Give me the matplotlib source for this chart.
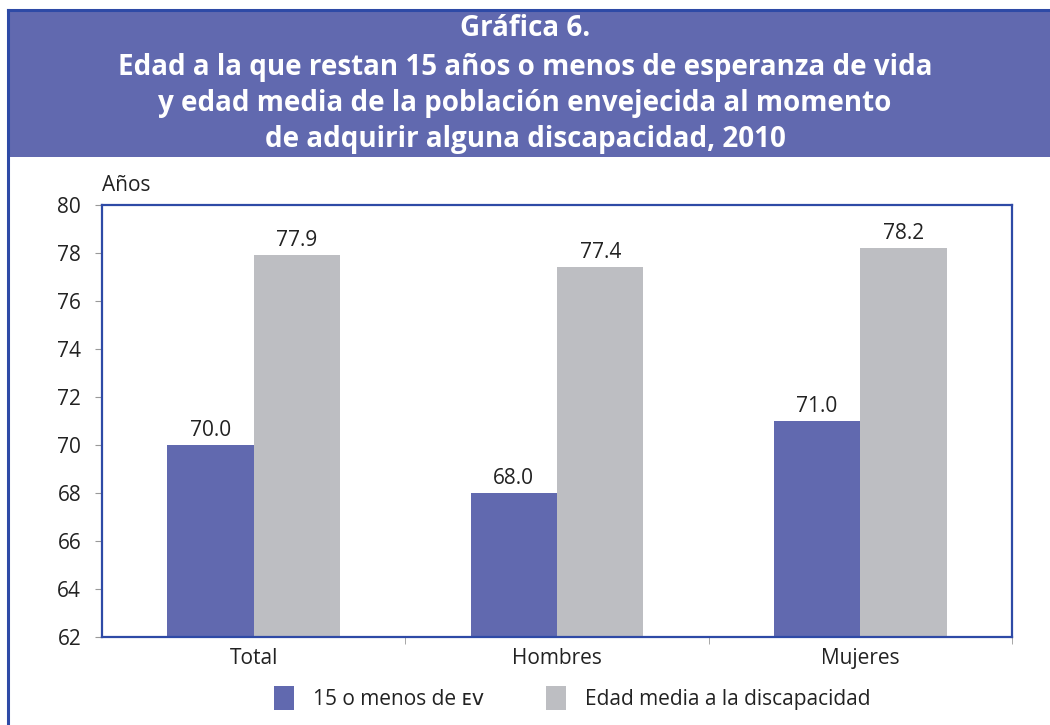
import matplotlib
matplotlib.use("Agg")
import matplotlib.pyplot as plt
from matplotlib.patches import Rectangle
from matplotlib.lines import Line2D
import numpy as np

plt.rcParams['font.family'] = ['Open Sans', 'DejaVu Sans']

categories = ["Total", "Hombres", "Mujeres"]
serie_ev = [70.0, 68.0, 71.0]
serie_media = [77.9, 77.4, 78.2]
series_labels = ["15 o menos de ᴇᴠ", "Edad media a la discapacidad"]
yticks = [62, 64, 66, 68, 70, 72, 74, 76, 78, 80]
title_lines = ["Gráfica 6.",
               "Edad a la que restan 15 años o menos de esperanza de vida",
               "y edad media de la población envejecida al momento",
               "de adquirir alguna discapacidad, 2010"]

BLUE = "#6169AF"
GREY = "#BDBEC2"
FRAME = "#2E4AA6"
TXT = "#222222"
FS = 15

W, H = 1050, 725
fig = plt.figure(figsize=(W/100, H/100), dpi=100)

# Frame and banner
fig.patches.append(Rectangle((8/W, 1 - 157/H), 1 - 8/W, (157-10)/H,
                             transform=fig.transFigure, facecolor=BLUE,
                             edgecolor='none', zorder=0))
fig.lines.append(Line2D([8/W, 1], [1 - 10/H, 1 - 10/H], transform=fig.transFigure,
                        color=FRAME, lw=2.2))
fig.lines.append(Line2D([8/W, 8/W], [0, 1 - 10/H], transform=fig.transFigure,
                        color=FRAME, lw=2.2))

ys = [29, 67, 103, 139]
for t, y in zip(title_lines, ys):
    fig.text(0.5, 1 - y/H, t, ha='center', va='center', color='white',
             fontsize=20, fontweight='bold')

ax = fig.add_axes([102/W, 1 - 637/H, (1012-102)/W, (637-205)/H])
x = np.arange(len(categories))
bw = 0.285
b1 = ax.bar(x - bw/2, serie_ev, bw, color=BLUE, label=series_labels[0], zorder=2)
b2 = ax.bar(x + bw/2, serie_media, bw, color=GREY, label=series_labels[1], zorder=2)
for bars, vals in ((b1, serie_ev), (b2, serie_media)):
    for r, v in zip(bars, vals):
        ax.text(r.get_x() + r.get_width()/2, v + 0.18, f"{v:.1f}", ha='center',
                va='bottom', fontsize=FS, color=TXT)

ax.set_ylim(62, 80)
ax.set_xlim(-0.5, 2.5)
ax.set_yticks(yticks)
ax.set_yticklabels([str(v) for v in yticks], fontsize=FS, color=TXT)
ax.set_xticks(x)
ax.set_xticklabels(categories, fontsize=FS, color=TXT)
ax.tick_params(axis='x', length=0, pad=8)
ax.tick_params(axis='y', length=5, color='#999999', pad=10)
ax.set_xticks([0.5, 1.5, 2.5], minor=True)
ax.tick_params(axis='x', which='minor', length=5, color='#999999')
for s in ax.spines.values():
    s.set_color(FRAME)
    s.set_linewidth(1.6)
ax.text(0, 1.02, "Años", transform=ax.transAxes, ha='left', va='bottom',
        fontsize=FS, color=TXT)

leg = fig.legend(handles=[b1, b2], loc='center', bbox_to_anchor=(0.545, 1 - 698/H),
                 ncol=2, frameon=False, fontsize=FS, handlelength=0.95,
                 handleheight=1.4, columnspacing=3.0, handletextpad=0.9)
for t in leg.get_texts():
    t.set_color(TXT)

fig.savefig("out.png", dpi=100)
